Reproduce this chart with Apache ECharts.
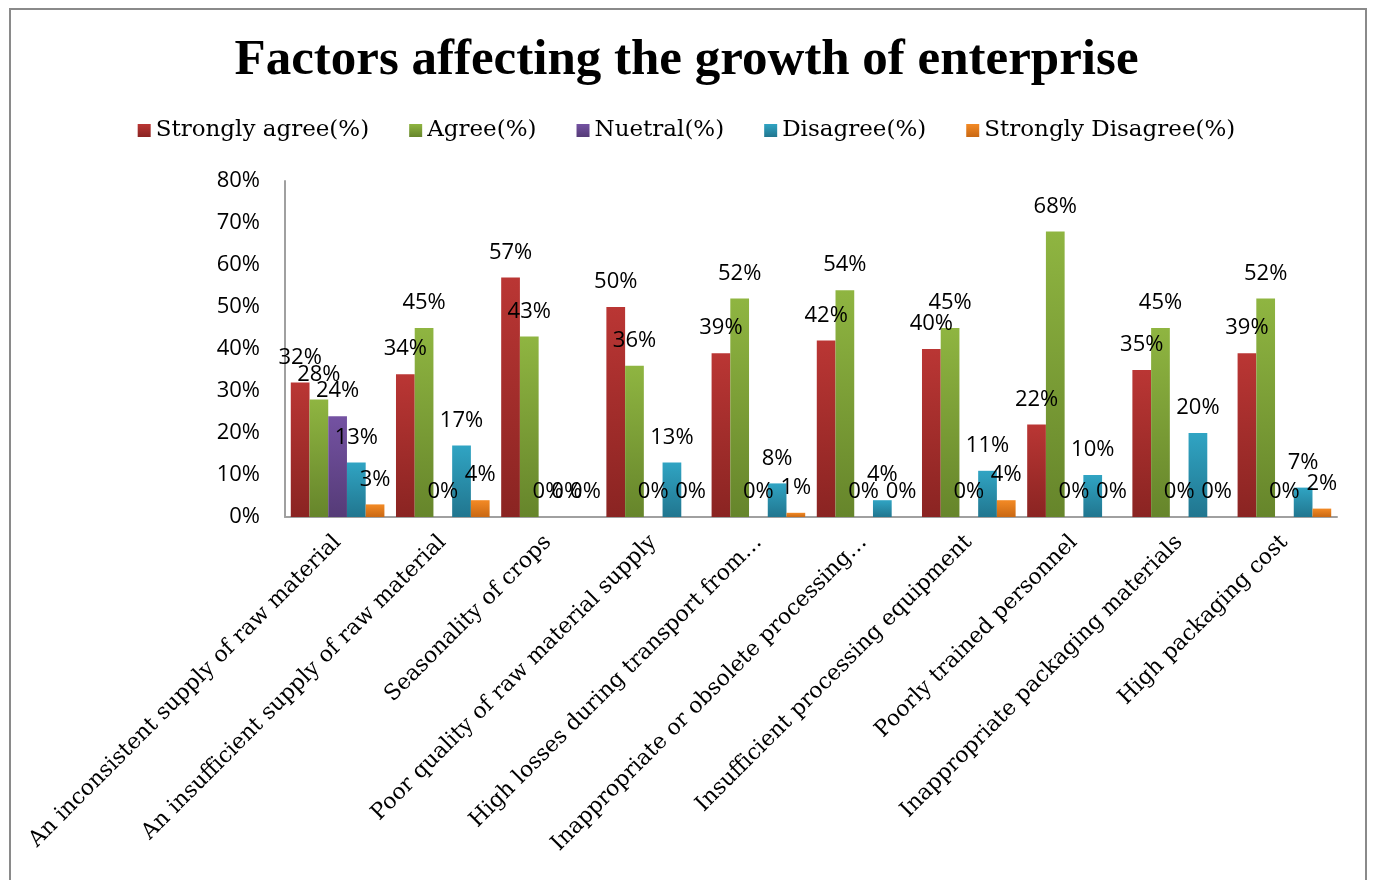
<!DOCTYPE html>
<html>
<head>
<meta charset="utf-8">
<style>
  html, body { margin: 0; padding: 0; background: #ffffff; }
  #chart { width: 1373px; height: 880px; }
</style>
<script src="https://cdn.jsdelivr.net/npm/echarts@6/dist/echarts.min.js"></script>
</head>
<body>
<div id="chart"></div>
<script>
// Survey categories (x axis)
const categories = [
  'An inconsistent supply of raw material',
  'An insufficient supply of raw material',
  'Seasonality of crops',
  'Poor quality of raw material supply',
  'High losses during transport from…',
  'Inappropriate or obsolete processing…',
  'Insufficient processing equipment',
  'Poorly trained personnel',
  'Inappropriate packaging materials',
  'High packaging cost'
];

// Response shares (%) per category
const stronglyAgree    = [32, 34, 57, 50, 39, 42, 40, 22, 35, 39];
const agree            = [28, 45, 43, 36, 52, 54, 45, 68, 45, 52];
const neutral          = [24,  0,  0,  0,  0,  0,  0,  0,  0,  0];
const disagree         = [13, 17,  0, 13,  8,  4, 11, 10, 20,  7];
const stronglyDisagree = [ 3,  4,  0,  0,  1,  0,  4,  0,  0,  2];

const seriesNames = ['Strongly agree(%)', 'Agree(%)', 'Nuetral(%)', 'Disagree(%)', 'Strongly Disagree(%)'];
const seriesData = [stronglyAgree, agree, neutral, disagree, stronglyDisagree];

// value-axis ticks
const yMin = 0, yMax = 80, yStep = 10;

// top / bottom colours of each bar gradient
const palette = [
  ['#BA3634', '#8A2422'],
  ['#8FB541', '#66852B'],
  ['#7452A2', '#553B77'],
  ['#30A4C3', '#21768F'],
  ['#F38A25', '#C96813']
];

const labelFont = '"Open Sans", sans-serif';
const serifFont = '"DejaVu Serif", serif';
const titleFont = '"Liberation Serif", serif';

function gradient(i) {
  return {
    type: 'linear', x: 0, y: 0, x2: 0, y2: 1,
    colorStops: [
      { offset: 0, color: palette[i][0] },
      { offset: 1, color: palette[i][1] }
    ]
  };
}

const series = seriesNames.map((name, i) => ({
  name: name,
  type: 'bar',
  data: seriesData[i],
  barGap: '0%',
  barCategoryGap: '11%',
  itemStyle: { color: gradient(i) },
  label: {
    show: true,
    position: 'top',
    distance: 14,
    formatter: '{c}%',
    color: '#000',
    fontFamily: labelFont,
    fontSize: 22
  },
  emphasis: { disabled: true }
}));

const chart = echarts.init(document.getElementById('chart'), null, { renderer: 'canvas' });
chart.setOption({
  backgroundColor: '#ffffff',
  animation: false,
  color: palette.map(p => p[0]),
  title: {
    text: 'Factors affecting the growth of enterprise',
    left: 'center',
    top: 30,
    textStyle: {
      fontFamily: titleFont,
      fontWeight: 'bold',
      fontSize: 51,
      color: '#000'
    }
  },
  legend: {
    top: 114,
    left: 'center',
    itemWidth: 13,
    itemHeight: 13,
    itemGap: 40,
    icon: 'rect',
    textStyle: {
      fontFamily: serifFont,
      fontSize: 23,
      color: '#000'
    },
    data: seriesNames.map((n, i) => ({ name: n, itemStyle: { color: gradient(i) } }))
  },
  graphic: [{
    type: 'rect',
    shape: { x: 10, y: 9, width: 1356, height: 900 },
    style: { fill: 'none', stroke: '#8a8a8a', lineWidth: 2 },
    silent: true
  }],
  grid: { left: 285, right: 36, top: 181, bottom: 363, containLabel: false },
  xAxis: {
    type: 'category',
    data: categories,
    axisLine: { lineStyle: { color: '#a0a0a0', width: 2 } },
    axisTick: { show: false },
    axisLabel: {
      interval: 0,
      rotate: 45,
      margin: 22,
      fontFamily: serifFont,
      fontSize: 22,
      color: '#000'
    }
  },
  yAxis: {
    type: 'value',
    min: yMin,
    max: yMax,
    interval: yStep,
    splitLine: { show: false },
    axisLine: { show: true, lineStyle: { color: '#a0a0a0', width: 2 } },
    axisTick: { show: false },
    axisLabel: {
      formatter: '{value}%',
      margin: 25,
      fontFamily: labelFont,
      fontSize: 22,
      color: '#000'
    }
  },
  series: series
});
</script>
</body>
</html>
